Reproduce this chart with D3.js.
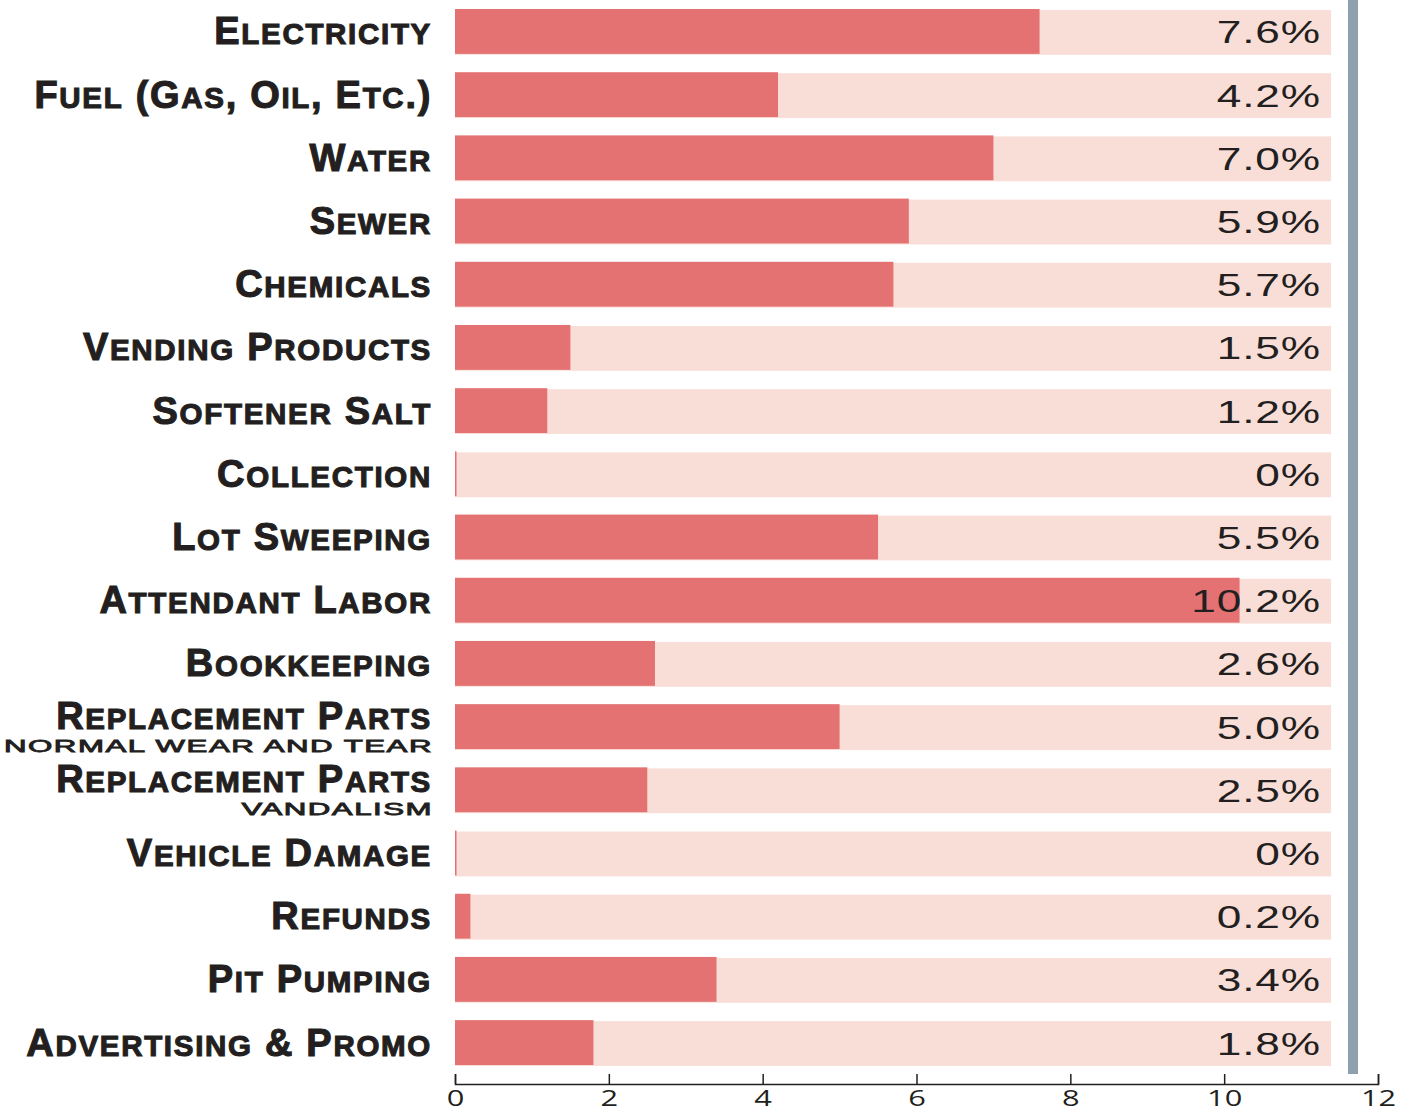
<!DOCTYPE html>
<html lang="en">
<head>
  <meta charset="utf-8">
  <script src="https://d3js.org/d3.v7.min.js"></script>
  <style>
    body { margin: 0; background: #fff; }
    .label { font-family: "Liberation Sans", Arial, sans-serif; font-weight: bold; fill: #231f20; stroke: #231f20; stroke-width: 1.1px; }
    .sub { font-family: "Liberation Sans", Arial, sans-serif; fill: #231f20; stroke: #231f20; stroke-width: 0.8px; }
    .value { font-family: "Liberation Sans", Arial, sans-serif; fill: #231f20; }
    .axis text { font-family: "Open Sans", sans-serif; font-size: 22px; fill: #231f20; }
    .axis path, .axis line { stroke: #231f20; stroke-width: 1.5px; fill: none; }
  </style>
</head>
<body>
<div id="chart"></div>
<script>
  // categories, top to bottom
  var categories = ["Electricity", "Fuel (Gas, Oil, Etc.)", "Water", "Sewer", "Chemicals",
    "Vending Products", "Softener Salt", "Collection", "Lot Sweeping", "Attendant Labor",
    "Bookkeeping", "Replacement Parts", "Replacement Parts", "Vehicle Damage", "Refunds",
    "Pit Pumping", "Advertising & Promo"];
  var subLabels = ["", "", "", "", "", "", "", "", "", "", "",
    "NORMAL WEAR AND TEAR", "VANDALISM", "", "", "", ""];
  var values = [7.6, 4.2, 7.0, 5.9, 5.7, 1.5, 1.2, 0, 5.5, 10.2, 2.6, 5.0, 2.5, 0, 0.2, 3.4, 1.8];
  var valueLabels = ["7.6%", "4.2%", "7.0%", "5.9%", "5.7%", "1.5%", "1.2%", "0%", "5.5%", "10.2%",
    "2.6%", "5.0%", "2.5%", "0%", "0.2%", "3.4%", "1.8%"];
  var ticks = [0, 2, 4, 6, 8, 10, 12];
  var trackMax = 11.39;
  var markerValue = 11.675;

  var width = 1403, height = 1112;
  var plotLeft = 455, plotRight = 1378, plotTop = 10, plotBottom = 1066;

  var svg = d3.select("#chart").append("svg")
    .attr("width", width)
    .attr("height", height);

  var x = d3.scaleLinear().domain([0, 12]).range([plotLeft, plotRight]);
  var y = d3.scaleBand().domain(d3.range(categories.length))
    .range([plotTop, plotBottom]).paddingInner(0.29).paddingOuter(0);

  var rows = svg.selectAll("g.row")
    .data(values)
    .enter().append("g")
    .attr("class", "row");

  // background track
  rows.append("rect")
    .attr("x", x(0))
    .attr("y", function(d, i) { return y(i); })
    .attr("width", x(trackMax) - x(0))
    .attr("height", y.bandwidth())
    .attr("fill", "#f9ded8");

  // value bar
  rows.append("rect")
    .attr("x", x(0))
    .attr("y", function(d, i) { return y(i) - 1; })
    .attr("width", function(d) { return Math.max(x(d) - x(0), 1.5); })
    .attr("height", y.bandwidth())
    .attr("fill", "#e47272");

  // value labels
  rows.append("text")
    .attr("class", "value")
    .attr("transform", function(d, i) {
      return "translate(1321," + (y(i) + y.bandwidth() / 2 + 11) + ") scale(1.45,1)";
    })
    .attr("text-anchor", "end")
    .style("font-size", "30.5px")
    .style("letter-spacing", "0.6px")
    .text(function(d, i) { return valueLabels[i]; });

  // category labels with small caps
  function runs(s) {
    var out = [];
    for (var k = 0; k < s.length; k++) {
      var c = s[k];
      var small = c !== c.toUpperCase();
      if (out.length && out[out.length - 1].small === small) out[out.length - 1].t += c;
      else out.push({t: c, small: small});
    }
    return out;
  }

  rows.each(function(d, i) {
    var g = d3.select(this);
    var cy = y(i) + y.bandwidth() / 2;
    var hasSub = subLabels[i] !== "";
    var t = g.append("text")
      .attr("class", "label")
      .attr("x", 432)
      .attr("y", hasSub ? cy + 1 : cy + 12)
      .attr("text-anchor", "end")
      .style("letter-spacing", "1.7px");
    runs(categories[i]).forEach(function(r) {
      t.append("tspan")
        .style("font-size", r.small ? "29.5px" : "38px")
        .text(r.small ? r.t.toUpperCase() : r.t);
    });
    if (hasSub) {
      g.append("text")
        .attr("class", "sub")
        .attr("transform", "translate(433," + (cy + 24) + ") scale(1.86,1)")
        .attr("text-anchor", "end")
        .style("font-size", "16.8px")
        .style("letter-spacing", "0.8px")
        .text(subLabels[i]);
    }
  });

  // grey marker line
  svg.append("rect")
    .attr("x", x(markerValue) - 5)
    .attr("y", 0)
    .attr("width", 10)
    .attr("height", 1074)
    .attr("fill", "#8fa1af");

  // axis
  svg.append("g")
    .attr("class", "axis")
    .attr("transform", "translate(0,1084)")
    .call(d3.axisBottom(x).tickValues(ticks).tickSizeInner(-10).tickSizeOuter(-10).tickPadding(10))
    .call(function(g) {
      g.selectAll("text").attr("y", 6).attr("transform", "scale(1.4,1)");
    });
</script>
</body>
</html>
